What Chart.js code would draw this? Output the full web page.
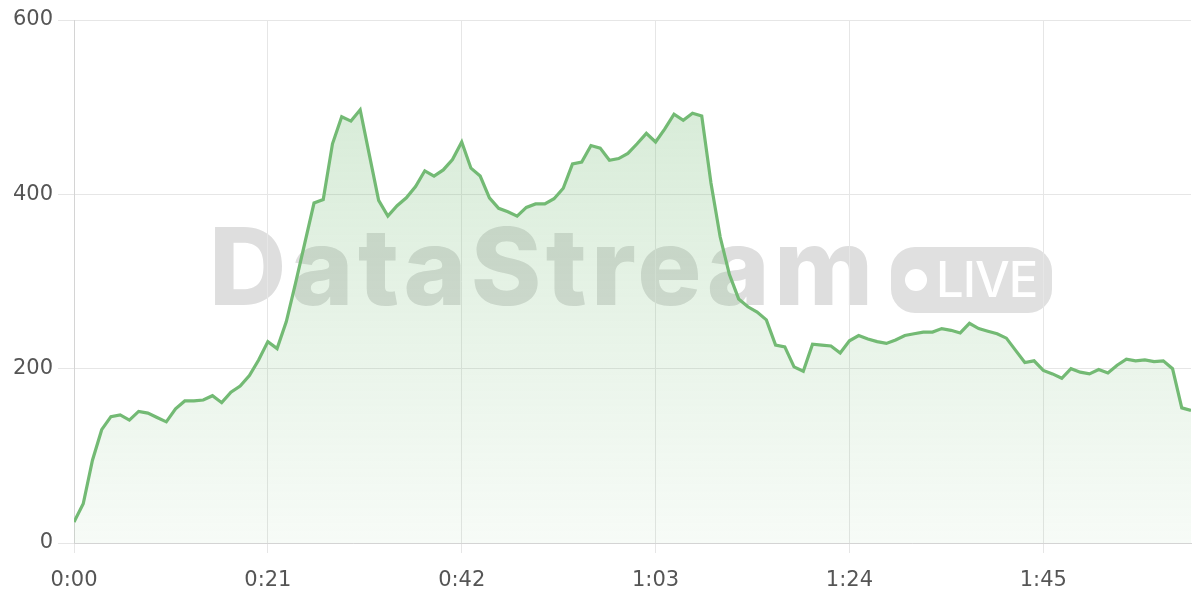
<!DOCTYPE html>
<html>
<head>
<meta charset="utf-8">
<script src="https://cdn.jsdelivr.net/npm/chart.js@4.4.1/dist/chart.umd.min.js"></script>
<style>
  html, body { margin: 0; padding: 0; background: #fff; }
  #wrap { position: relative; width: 1200px; height: 600px; }
  #wm { position: absolute; left: 0; top: 0; width: 1200px; height: 600px; pointer-events: none; }
  #wmText { position: absolute; left: 209px; top: 201px; font-family: Inter, "Liberation Sans", sans-serif;
    font-weight: 800; font-size: 107px; line-height: 130px; color: #dedede; letter-spacing: 4.3px; white-space: nowrap; }
  #wmLive { position: absolute; left: 891px; top: 247px; width: 161px; height: 66px; border-radius: 24px; background: #e0e0e0; }
  #wmDot { position: absolute; left: 14px; top: 22px; width: 22px; height: 22px; border-radius: 50%; background: #fff; }
  #wmLiveText { position: absolute; left: 45px; top: 0; line-height: 66px; font-family: Inter, "Liberation Sans", sans-serif;
    font-weight: 500; font-size: 49px; color: #fff; letter-spacing: -1px; }
  canvas { position: absolute; left: 0; top: 0; }
</style>
</head>
<body>
<div id="wrap">
  <div id="wm">
    <div id="wmText">DataStream</div>
    <div id="wmLive"><div id="wmDot"></div><div id="wmLiveText">LIVE</div></div>
  </div>
  <canvas id="chart" width="1200" height="600"></canvas>
</div>
<script>
// ============ DATOS ============
// one sample per second, 0:00 .. 2:01
const values = [
  24, 45, 95, 130, 145, 147, 141, 151, 149, 144,
  139, 154, 163, 163, 164, 169, 161, 173, 180, 192,
  210, 231, 223, 254, 298, 344, 390, 394, 458, 489,
  484, 497, 445, 393, 375, 387, 396, 409, 427, 421,
  428, 440, 460, 430, 421, 396, 384, 380, 375, 385,
  389, 389, 395, 407, 435, 437, 456, 453, 439, 441,
  447, 458, 470, 460, 475, 492, 485, 493, 490, 413,
  351, 308, 280, 271, 265, 256, 227, 225, 202, 197,
  228, 227, 226, 218, 232, 238, 234, 231, 229, 233,
  238, 240, 242, 242, 246, 244, 241, 252, 246, 243,
  240, 235, 221, 207, 209, 198, 194, 189, 200, 196,
  194, 199, 195, 204, 211, 209, 210, 208, 209, 200,
  155, 152
];
const xTicks = [0, 21, 42, 63, 84, 105];
const yTicks = [0, 200, 400, 600];

const LINE = '#73ba74';
const fmtTime = s => Math.floor(s / 60) + ':' + String(s % 60).padStart(2, '0');

const points = values.map((v, i) => ({ x: i, y: v }));

const ctx = document.getElementById('chart').getContext('2d');
new Chart(ctx, {
  type: 'line',
  data: {
    datasets: [{
      data: points,
      borderColor: LINE,
      borderWidth: 3.2,
      pointRadius: 0,
      tension: 0,
      fill: 'origin',
      backgroundColor: c => {
        const a = c.chart.chartArea;
        if (!a) return 'rgba(115,186,116,0.15)';
        const g = c.chart.ctx.createLinearGradient(0, a.top, 0, a.bottom);
        g.addColorStop(0, 'rgba(115,186,116,0.32)');
        g.addColorStop(1, 'rgba(115,186,116,0.06)');
        return g;
      }
    }]
  },
  options: {
    responsive: false,
    animation: false,
    layout: { padding: { top: 20, right: 9, left: 0, bottom: 0 } },
    plugins: { legend: { display: false }, tooltip: { enabled: false } },
    scales: {
      x: {
        type: 'linear', min: 0, max: 121,
        afterBuildTicks: s => { s.ticks = xTicks.map(v => ({ value: v })); },
        afterFit: s => { s.height = 57; },
        grid: { color: '#e6e6e6', lineWidth: 1, tickLength: 10 },
        border: { color: '#d4d4d4', width: 1 },
        ticks: { color: '#555', font: { family: 'DejaVu Sans', size: 21 }, padding: 15,
          maxRotation: 0, callback: v => fmtTime(v) }
      },
      y: {
        min: 0, max: 600,
        afterBuildTicks: s => { s.ticks = yTicks.map(v => ({ value: v })); },
        afterFit: s => { s.width = 74; },
        grid: { color: '#e6e6e6', lineWidth: 1, tickLength: 16 },
        border: { color: '#d4d4d4', width: 1 },
        ticks: { color: '#555', font: { family: 'DejaVu Sans', size: 21 }, padding: 5 }
      }
    }
  }
});
</script>
</body>
</html>
